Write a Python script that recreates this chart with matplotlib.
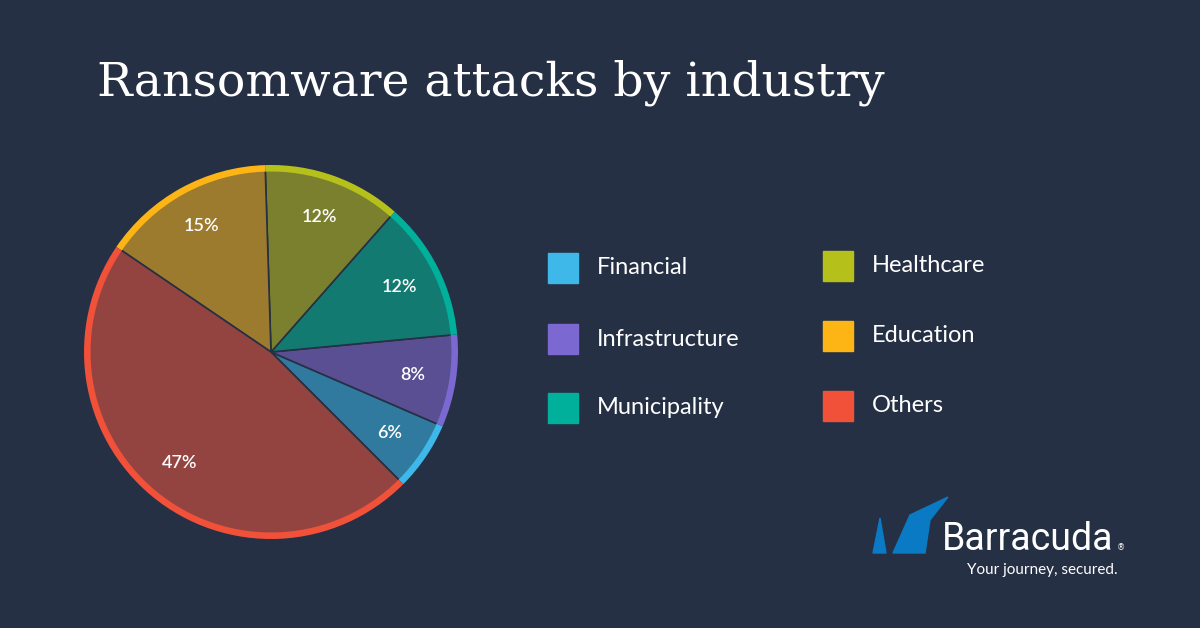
import numpy as np
import matplotlib.pyplot as plt
from matplotlib.patches import Polygon

categories = ["Financial", "Infrastructure", "Municipality", "Healthcare", "Education", "Others"]
shares = [6, 8, 12, 12, 15, 47]
fill_colors = ["#2f7a9e", "#5a4f92", "#137a72", "#7a802e", "#9c7a2e", "#944440"]
ring_colors = ["#3db8e8", "#7b68d0", "#00b09a", "#b5c11a", "#fdb515", "#f05138"]
bg = "#253044"

fig = plt.figure(figsize=(12, 6.28), dpi=100)
fig.patch.set_facecolor(bg)

fig.text(97 / 1200, 1 - 96 / 628, "Ransomware attacks by industry", color="white",
         fontsize=34, family="DejaVu Serif", va="baseline")

# pie
cx, cy, r = 271, 352, 187
half = 190
ax = fig.add_axes([(cx - half) / 1200, (628 - cy - half) / 628, 2 * half / 1200, 2 * half / 628])
ax.set_facecolor(bg)
ax.pie(shares, colors=fill_colors, startangle=-45, counterclock=True, radius=1,
       wedgeprops=dict(edgecolor=bg, linewidth=1.2))
ax.pie(shares, colors=ring_colors, startangle=-45, counterclock=True, radius=1,
       wedgeprops=dict(width=0.035, edgecolor="none"))
start = -45
for s in shares:
    mid = np.deg2rad(start + s * 3.6 / 2)
    rr = 0.77
    ax.text(rr * np.cos(mid), rr * np.sin(mid), f"{s}%", color="white",
            fontsize=13, fontweight="semibold", ha="center", va="center", family="Lato")
    start += s * 3.6
lim = half / r
ax.set_xlim(-lim, lim)
ax.set_ylim(-lim, lim)
ax.set_aspect("equal")
ax.axis("off")

# legend
lax = fig.add_axes([0, 0, 1, 1])
lax.set_xlim(0, 1200)
lax.set_ylim(628, 0)
lax.axis("off")
positions = [(548, 268), (548, 339), (548, 408), (823, 266), (823, 336), (823, 406)]
for (x, y), name, col in zip(positions, categories, ring_colors):
    lax.add_patch(plt.Rectangle((x, y - 15), 30, 30, color=col))
    lax.text(x + 49, y, name, color="white", fontsize=17, va="center", family="Lato")

# logo
lax.add_patch(Polygon([(873, 553), (880, 518), (886, 553)], closed=True, color="#0a7ac4"))
lax.add_patch(Polygon([(893, 553), (910, 515), (948, 497), (930, 520), (925, 553)],
                      closed=True, color="#0a7ac4"))
lax.text(942, 540, "Barracuda", color="white", fontsize=27, va="center", family="Roboto")
lax.text(1117, 548, "®", color="white", fontsize=6, va="center")
lax.text(1118, 570, "Your journey, secured.", color="white", fontsize=11, ha="right",
         va="center", family="Lato")

fig.savefig("out.png", dpi=100, facecolor=bg)
